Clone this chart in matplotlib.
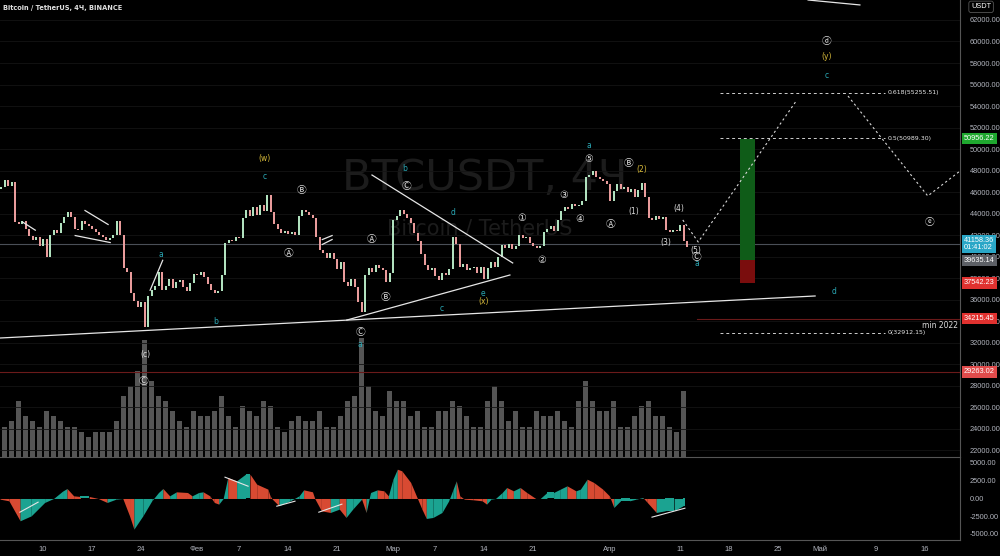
import numpy as np
import matplotlib.pyplot as plt
import matplotlib.transforms as mtransforms

# BTCUSDT 4H chart (Jan-Apr 2022) with elliott wave markup, volume and oscillator

# closes every half day, starting Jan 4 (day -6 relative to Jan 10)
closes = [46500, 47100, 46600, 46900, 43200, 43000, 43300, 42600, 41900, 41500,
          41800, 41000, 41600, 40000, 42000, 42500, 42200, 43100, 43700, 44100,
          43700, 42600, 42500, 43300, 43000, 42800, 42600, 42300, 42000, 41800,
          41500, 41700, 42000, 43300, 42000, 38900, 38600, 36600, 35900, 35300,
          35800, 33400, 36300, 36900, 37300, 38600, 36900, 37300, 37900, 37100,
          37600, 37800, 37200, 36800, 37500, 38400, 38300, 38600, 38100, 37400,
          36900, 36600, 36800, 38300, 41300, 41500, 41400, 41800, 41700, 43600,
          44300, 43800, 44600, 43900, 44800, 44200, 45700, 44100, 43000, 42600,
          42200, 42400, 42100, 42300, 42000, 43800, 44300, 44100, 43900, 43600,
          41800, 40600, 40300, 39900, 40300, 39800, 38800, 39500, 37600, 37300,
          37900, 37200, 35800, 34800, 38300, 38900, 38600, 39200, 38900, 38700,
          37600, 38500, 43400, 43800, 44300, 44000, 43600, 43100, 42200, 41400,
          40200, 39200, 38700, 38900, 38200, 37800, 38500, 38300, 38800, 41800,
          41200, 39000, 39300, 38700, 38900, 39000, 38500, 39000, 37900, 38900,
          39500, 39000, 40000, 41100, 40800, 41200, 40700, 41000, 42000, 41700,
          41800, 41300, 41000, 40800, 41000, 42300, 42600, 42800, 42400, 43400,
          44200, 44600, 44400, 44900, 44700, 44800, 45200, 47400, 47600, 48000,
          47400, 47200, 47000, 46700, 45200, 46100, 46700, 46300, 46500, 46000,
          46300, 45500, 46200, 46800, 45500, 43600, 43400, 43800, 43500, 43700,
          42500, 42300, 42500, 42400, 42900, 41400, 40900]
first_open = 46300

# daily volume (thousand BTC), Jan 4 .. Apr 11
volume = [30, 35, 55, 40, 35, 30,
          45, 40, 35, 30, 30, 25, 20,
          25, 25, 25, 35, 60, 70, 85,
          115, 75, 60, 55, 45, 35, 30,
          45, 40, 40, 45, 60, 40, 30,
          50, 45, 40, 55, 50, 30, 25,
          35, 40, 35, 35, 45, 30, 30,
          40, 55, 60, 117, 70, 45, 40,
          65, 55, 55, 40, 45, 30, 30,
          45, 45, 55, 50, 40, 30, 30,
          55, 70, 55, 35, 45, 30, 30,
          45, 40, 40, 45, 35, 30, 55,
          75, 55, 45, 45, 55, 30, 30,
          40, 50, 55, 40, 40, 30, 25,
          65]

# oscillator, read at turning points (day, value)
osc_day = [-6.14, -4.87, -3.27, -1.68, 0.23, 1.51, 2.79, 3.43, 4.38, 5.34, 6.61, 7.89,
           9.16, 10.44, 11.4, 12.36, 12.99, 14.27, 15.54, 16.5, 17.13, 18.09, 19.05,
           20.64, 21.29, 22.24, 22.87, 23.83, 24.47, 25.11, 25.74, 26.39, 27.66, 28.93,
           29.57, 30.53, 32.13, 32.44, 32.76, 33.71, 35.31, 36.59, 37.23, 38.5, 38.82,
           39.77, 41.05, 42.33, 43.29, 44.24, 45.52, 46.16, 46.79, 47.75, 48.7, 49.34,
           49.99, 50.62, 51.26, 52.53, 53.49, 54.13, 54.76, 55.71, 57.0, 57.96, 58.59,
           59.04, 59.54, 60.19, 61.46, 62.73, 63.37, 64.01, 64.64, 65.6, 66.24, 67.2,
           68.16, 69.11, 70.39, 71.03, 71.99, 72.94, 73.9, 74.86, 76.13, 76.77, 77.73,
           78.69, 79.96, 80.91, 81.55, 82.5, 83.79, 84.74, 85.7, 86.33, 87.61, 88.89,
           90.16, 91.43, 91.76]
osc_val = [-94, -328, -3142, -2439, -563, 0, 1032, 1407, 375, 281, 281, 0,
           -563, -94, 0, -2439, -4315, -2439, -328, 844, 1407, 375, 938,
           844, 375, 844, 938, 375, -563, -797, 0, 2955, 2486, 3424,
           3424, 2017, 1313, 375, -94, -1032, -328, 375, 1219, 938, 0,
           -1735, -1970, -1501, -2674, -1501, -94, -1970, 844, 1219, 1079, 375,
           2720, 4127, 3893, 2252, 0, -1501, -2814, -2674, -1970, -328, 1313,
           2486, 375, -94, -188, -328, -797, -94, 0, 844, 1548, 1079,
           1548, 844, 0, 0, 844, 844, 1313, 1782, 1079, 1313, 2720,
           2252, 1313, 375, -1266, -328, -328, -94, 141, -563, -1970, -1735,
           -1735, -1032, -1032]

# price levels shown on the right scale
level_prices = [50956.22, 41158.36, 39635.14, 37542.23, 34215.45, 29263.02]
level_texts = ['50956.22', '41158.36\n01:41:02', '39635.14', '37542.23', '34215.45', '29263.02']
level_colors = ['#1fa82f', '#2aa7c7', '#5d6066', '#e0312f', '#e0312f', '#e04b4b']

# fibonacci levels
fib_prices = [55255.51, 50989.30, 32912.15]
fib_texts = ['0.618(55255.51)', '0.5(50989.30)', '0(32912.15)']

# long position box: entry, target, stop
pos_entry, pos_target, pos_stop = 39635.14, 50956.22, 37542.23

# projected path (dashed)
proj1_day = [91.4, 93.6, 107.7]
proj1_price = [43400, 41350, 54560]
proj2_day = [115.0, 126.4, 132.1]
proj2_price = [54930, 45630, 48510]

# trend lines (day0, price0, day1, price1)
trend_lines = [(-6.14, 32420, 110.3, 36330),
               (47.0, 47580, 67.1, 39400),
               (43.4, 34090, 66.7, 38280),
               (109.3, 63860, 116.7, 63400),
               (-2.9, 43200, -1.1, 42450),
               (6.0, 44280, 9.3, 42980),
               (4.6, 41950, 9.6, 41300),
               (15.3, 36860, 17.1, 39650),
               (39.9, 41580, 41.3, 41950),
               (39.9, 41120, 41.3, 41580)]
osc_lines = [(-3.3, -1930, -0.7, -520),
             (26.0, 3000, 29.3, 1730),
             (33.4, -1085, 36.0, -380),
             (39.4, -1930, 42.7, -800),
             (87.0, -2630, 91.7, -1370)]

# wave labels (text, day, price, kind)
wave_labels = [('(w)', 31.7, 49160, 'y'), ('c', 31.7, 47400, 't'), ('Ⓑ', 37.0, 46190, 'w'),
               ('Ⓐ', 35.1, 40330, 'w'), ('a', 16.9, 40230, 't'), ('b', 24.6, 33910, 't'),
               ('(c)', 14.6, 30840, 'w'), ('Ⓒ', 14.3, 28420, 'w'), ('b', 51.7, 48230, 't'),
               ('Ⓒ', 51.9, 46560, 'w'), ('d', 58.6, 44140, 't'), ('Ⓐ', 47.0, 41630, 'w'),
               ('Ⓑ', 49.0, 36230, 'w'), ('c', 56.9, 35210, 't'), ('e', 62.9, 36600, 't'),
               ('(x)', 62.9, 35860, 'y'), ('Ⓒ', 45.3, 32980, 'w'), ('a', 45.3, 31860, 't'),
               ('①', 68.4, 43580, 'w'), ('②', 71.3, 39670, 'w'), ('③', 74.4, 45720, 'w'),
               ('④', 76.7, 43490, 'w'), ('⑤', 78.0, 49070, 'w'), ('a', 78.0, 50280, 't'),
               ('Ⓑ', 83.7, 48700, 'w'), ('Ⓐ', 81.1, 43020, 'w'), ('(1)', 84.4, 44230, 'w'),
               ('(2)', 85.6, 48050, 'y'), ('(3)', 89.0, 41350, 'w'), ('(4)', 90.9, 44510, 'w'),
               ('(5)', 93.3, 40600, 'w'), ('Ⓒ', 93.4, 40000, 'w'), ('a', 93.4, 39350, 't'),
               ('ⓓ', 111.9, 60050, 'w'), ('(y)', 111.9, 58560, 'y'), ('c', 111.9, 56880, 't'),
               ('ⓔ', 126.6, 43210, 'w'), ('d', 113.0, 36700, 't')]
label_colors = {'w': '#dcdcdc', 'y': '#d6b93a', 't': '#2aa8b5'}

# date axis
date_ticks = [0, 7, 14, 22, 28, 35, 42, 50, 56, 63, 70, 81, 91, 98, 105, 111, 119, 126]
date_labels = ['10', '17', '24', 'Фев', '7', '14', '21', 'Мар', '7', '14', '21',
               'Апр', '11', '18', '25', 'Май', '9', '16']

price_ticks = np.arange(22000, 62001, 2000)
osc_ticks = [5000, 2500, 0, -2500, -5000]

xlim = (-6.143, 131.0)
axis_grey = '#b2b5be'
scale_font = 'Liberation Sans'
wave_fonts = ['DejaVu Sans', 'Noto Sans CJK JP']
up_color, down_color = '#b5e8c4', '#f0a0a0'

fig = plt.figure(figsize=(10, 5.56), dpi=100, facecolor='black')
axv = fig.add_axes([0, 0.178, 0.96, 0.822], facecolor='black')
ax = fig.add_axes([0, 0.178, 0.96, 0.822])
ax.patch.set_alpha(0)
axo = fig.add_axes([0, 0.0288, 0.96, 0.1493], facecolor='black')

# volume in the background
vol_days = -6 + np.arange(len(volume)) + 0.5
axv.bar(vol_days, volume, width=0.6, color='#555555', linewidth=0)
axv.set_xlim(xlim)
axv.set_ylim(0, 450)
axv.axis('off')

# watermark
ax.text(0.505, 0.61, 'BTCUSDT, 4Ч', transform=ax.transAxes, fontsize=31, color='#1c1c1c',
        ha='center', va='center', zorder=0)
ax.text(0.5, 0.5, 'Bitcoin / TetherUS', transform=ax.transAxes, fontsize=15, color='#1c1c1c',
        ha='center', va='center', zorder=0)

# candles (open = previous close)
days = -6 + 0.5 * np.arange(len(closes))
opens = [first_open] + closes[:-1]
for d, o, c in zip(days, opens, closes):
    col = up_color if c >= o else down_color
    lo, hi = min(o, c), max(o, c)
    if hi - lo < 80:
        hi, lo = hi + 40, lo - 40
    ax.vlines(d, lo, hi, color=col, linewidth=1.4, zorder=3)

ax.set_xlim(xlim)
ax.set_ylim(21349, 63860)
for p in price_ticks:
    ax.axhline(p, color='#141414', linewidth=0.6, zorder=0)

# horizontal levels
ax.axhline(41158.36, color='#4a4f57', linewidth=0.8, zorder=1)
ax.axhline(29263.02, color='#6b1a1a', linewidth=0.8, zorder=1)
ax.plot([93.4, 131], [34215.45, 34215.45], color='#6b1a1a', linewidth=0.8, zorder=1)
ax.text(130.7, 33600, 'min 2022', color='#dcdcdc', fontsize=5.5, ha='right', va='center')

# trend lines
for d0, p0, d1, p1 in trend_lines:
    ax.plot([d0, d1], [p0, p1], color='#e6e6e6', linewidth=0.9, zorder=4)

# long position box
ax.fill_between([99.6, 101.7], pos_entry, pos_target, color='#0f5c18', linewidth=0, zorder=2)
ax.fill_between([99.6, 101.7], pos_stop, pos_entry, color='#7a0d0d', linewidth=0, zorder=2)

# fib levels
for p, t in zip(fib_prices, fib_texts):
    ax.plot([96.7, 120.3], [p, p], color='#cfcfcf', linewidth=0.7, linestyle=(0, (3, 3)), zorder=4)
    ax.text(120.7, p, t, color='#e6e6e6', fontsize=4.5, ha='left', va='center')

# projection
ax.plot(proj1_day, proj1_price, color='#d8d8d8', linewidth=0.8, linestyle=(0, (2, 2.5)), zorder=4)
ax.plot(proj2_day, proj2_price, color='#d8d8d8', linewidth=0.8, linestyle=(0, (2, 2.5)), zorder=4)

# wave labels
for t, d, p, k in wave_labels:
    size = 7 if len(t) == 1 and ord(t) > 0x2000 else 5.5
    ax.text(d, p, t, color=label_colors[k], fontsize=size, ha='center', va='center', zorder=5,
            family=wave_fonts)

# header
ax.text(0.003, 0.988, 'Bitcoin / TetherUS, 4Ч, BINANCE', transform=ax.transAxes,
        color='#e0e0e0', fontsize=4.8, ha='left', va='top', fontweight='bold')

# right price scale
ax.yaxis.tick_right()
ax.set_yticks(price_ticks)
ax.set_yticklabels(['%.2f' % p for p in price_ticks], fontfamily=scale_font)
ax.tick_params(axis='y', colors=axis_grey, labelsize=5.3, length=0, pad=7)
ax.set_xticks([])
for s in ['top', 'left', 'bottom']:
    ax.spines[s].set_visible(False)
ax.spines['right'].set_color('#555555')
ax.spines['right'].set_linewidth(0.8)

trans = mtransforms.blended_transform_factory(ax.transAxes, ax.transData)
for p, t, c in zip(level_prices, level_texts, level_colors):
    ax.text(1.004, p, t, transform=trans, color='white', fontsize=5.3, ha='left', va='center',
            linespacing=1.0, fontfamily=scale_font,
            bbox=dict(boxstyle='square,pad=0.3', fc=c, ec='none'), clip_on=False, zorder=6)
ax.text(1.0115, 0.985, 'USDT', transform=ax.transAxes, color='white', fontsize=5.3, ha='left',
        va='center', fontfamily=scale_font,
        bbox=dict(boxstyle='round,pad=0.3', fc='black', ec='#555555', lw=0.6), clip_on=False)

# oscillator
od = np.array(osc_day)
ov = np.array(osc_val)
for i in range(len(od) - 1):
    col = '#1ba391' if ov[i + 1] >= ov[i] else '#d84a32'
    axo.fill_between(od[i:i + 2], 0, ov[i:i + 2], color=col, linewidth=0)
for d0, v0, d1, v1 in osc_lines:
    axo.plot([d0, d1], [v0, v1], color='#e6e6e6', linewidth=0.8)
axo.set_xlim(xlim)
axo.set_ylim(-5845, 5845)
axo.yaxis.tick_right()
axo.set_yticks(osc_ticks)
axo.set_yticklabels(['%.2f' % v for v in osc_ticks], fontfamily=scale_font)
axo.tick_params(axis='y', colors=axis_grey, labelsize=5.3, length=0, pad=7)
axo.set_xticks(date_ticks)
axo.set_xticklabels(date_labels, fontfamily=scale_font)
axo.tick_params(axis='x', colors=axis_grey, labelsize=5.5, length=0, pad=4)
axo.spines['left'].set_visible(False)
for s in ['top', 'right', 'bottom']:
    axo.spines[s].set_color('#555555')
    axo.spines[s].set_linewidth(0.8)

fig.savefig('out.png', dpi=100, facecolor='black')
